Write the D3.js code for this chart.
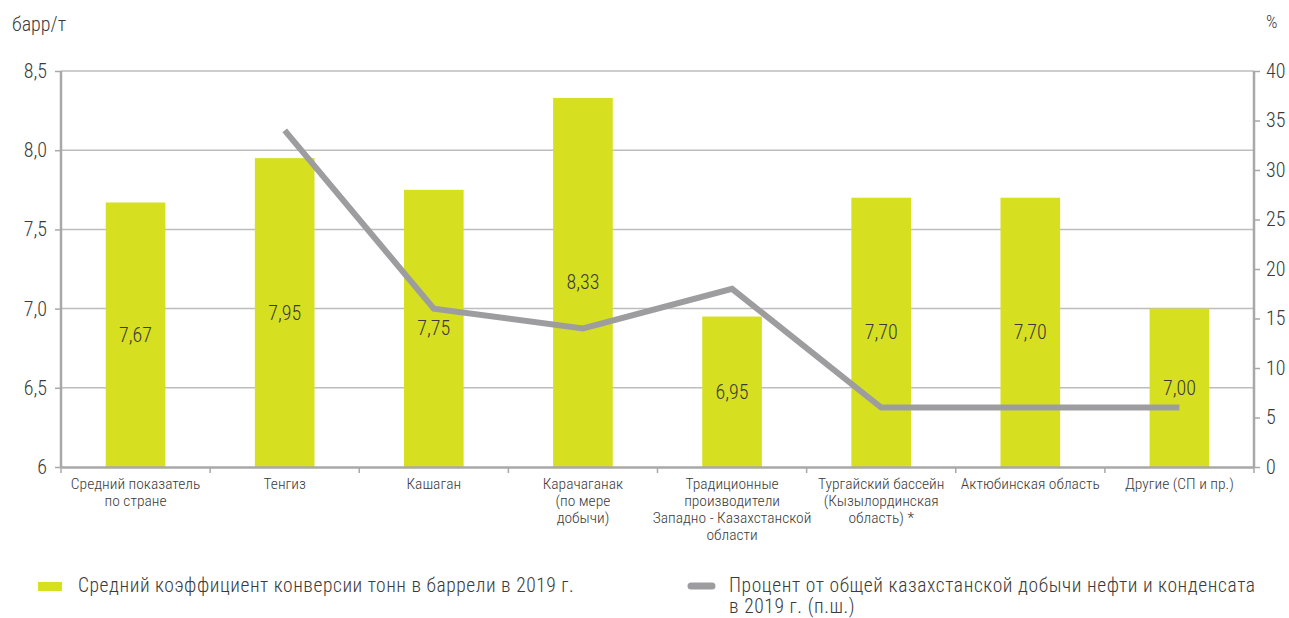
<!DOCTYPE html>
<html>
<head>
<meta charset="utf-8">
<script src="https://cdn.jsdelivr.net/npm/d3@7"></script>
<style>
  body { margin: 0; background: #fff; }
  svg text { font-family: "Roboto Condensed", "Liberation Sans Narrow", Roboto, sans-serif; font-weight: 300; fill: #3a3a3a; }
</style>
</head>
<body>
<div id="chart"></div>
<script>
const categories = [
  ['Средний показатель', 'по стране'],
  ['Тенгиз'],
  ['Кашаган'],
  ['Карачаганак', '(по мере', 'добычи)'],
  ['Традиционные', 'производители', 'Западно - Казахстанской', 'области'],
  ['Тургайский бассейн', '(Кызылординская', 'область) *'],
  ['Актюбинская область'],
  ['Другие (СП и пр.)']
]
const ratio = [7.67, 7.95, 7.75, 8.33, 6.95, 7.70, 7.70, 7.00]
const share = [null, 34, 16, 14, 18, 6, 6, 6]
const leftTicks = [6, 6.5, 7, 7.5, 8, 8.5]
const rightTicks = [0, 5, 10, 15, 20, 25, 30, 35, 40]

const dms = {
  width: 1289,
  height: 618,
  margin: { top: 71, right: 35, bottom: 151, left: 61 }
}
dms.contentWidth = dms.width - dms.margin.left - dms.margin.right
dms.contentHeight = dms.height - dms.margin.top - dms.margin.bottom

const fmt = v => d3.format('.2f')(v).replace('.', ',')
const fmtTick = v => (v === 6 ? '6' : d3.format('.1f')(v).replace('.', ','))

const svg = d3.select('#chart').append('svg')
  .attr('width', dms.width)
  .attr('height', dms.height)

const content = svg.append('g')
  .attr('transform', `translate(${dms.margin.left},${dms.margin.top})`)

const x = d3.scaleBand()
  .domain(d3.range(categories.length))
  .range([0, dms.contentWidth])
  .paddingInner(0.6)
  .paddingOuter(0.3)

const xStep = d3.scaleBand()
  .domain(d3.range(categories.length))
  .range([0, dms.contentWidth])

const yL = d3.scaleLinear().domain([6, 8.5]).range([dms.contentHeight, 0])
const yR = d3.scaleLinear().domain([0, 40]).range([dms.contentHeight, 0])

// gridlines
content.append('g')
  .selectAll('line')
  .data(leftTicks.slice(1))
  .join('line')
  .attr('x1', 0)
  .attr('x2', dms.contentWidth)
  .attr('y1', d => yL(d))
  .attr('y2', d => yL(d))
  .attr('stroke', '#bdbdbd')
  .attr('stroke-width', 1.5)

// bars
content.append('g')
  .selectAll('rect')
  .data(ratio)
  .join('rect')
  .attr('x', (d, i) => x(i))
  .attr('y', d => yL(d))
  .attr('width', x.bandwidth())
  .attr('height', d => dms.contentHeight - yL(d))
  .attr('fill', '#d6e021')

// line
const line = d3.line()
  .defined(d => d != null)
  .x((d, i) => xStep(i) + xStep.bandwidth() / 2)
  .y(d => yR(d))

content.append('path')
  .datum(share)
  .attr('d', line)
  .attr('fill', 'none')
  .attr('stroke', '#9d9da0')
  .attr('stroke-width', 6)
  .attr('stroke-linejoin', 'miter')

// value labels
content.append('g')
  .selectAll('text')
  .data(ratio)
  .join('text')
  .attr('x', (d, i) => x(i) + x.bandwidth() / 2)
  .attr('y', d => (yL(d) + dms.contentHeight) / 2)
  .attr('dy', '0.35em')
  .attr('text-anchor', 'middle')
  .style('font-size', '20px')
  .text(fmt)

// axes
const leftAxis = content.append('g')
  .call(d3.axisLeft(yL).tickValues(leftTicks).tickFormat(fmtTick).tickSize(6).tickPadding(8))
const rightAxis = content.append('g')
  .attr('transform', `translate(${dms.contentWidth},0)`)
  .call(d3.axisRight(yR).tickValues(rightTicks).tickSize(6).tickPadding(6))
const bottomAxis = content.append('g')
  .attr('transform', `translate(0,${dms.contentHeight})`)
  .call(d3.axisBottom(xStep).tickValues([]).tickSizeOuter(0))

bottomAxis.selectAll('.bt')
  .data(d3.range(categories.length + 1))
  .join('line')
  .attr('class', 'bt')
  .attr('x1', d => d * xStep.step())
  .attr('x2', d => d * xStep.step())
  .attr('y1', 0)
  .attr('y2', 6)
  .attr('stroke', '#a8a8a8')
  .attr('stroke-width', 1.5)

for (const ax of [leftAxis, rightAxis, bottomAxis]) {
  ax.attr('font-family', null)
  ax.select('.domain').attr('stroke', '#a8a8a8').attr('stroke-width', 2.5)
  ax.selectAll('.tick line').attr('stroke', '#a8a8a8').attr('stroke-width', 1.5)
  ax.selectAll('.tick text').style('font-size', '20px').style('fill', '#3a3a3a')
}
leftAxis.select('.domain').attr('d', `M0,0V${dms.contentHeight}`)
rightAxis.select('.domain').attr('d', `M0,0V${dms.contentHeight}`)

// category labels
const catLabels = content.append('g')
  .attr('transform', `translate(0,${dms.contentHeight})`)
  .selectAll('text')
  .data(categories)
  .join('text')
  .attr('text-anchor', 'middle')
  .attr('x', (d, i) => xStep(i) + xStep.bandwidth() / 2)
  .attr('y', 22)
  .style('font-size', '15.5px')

catLabels.selectAll('tspan')
  .data(d => d)
  .join('tspan')
  .attr('x', function () { return this.parentNode.getAttribute('x') })
  .attr('dy', (d, i) => (i === 0 ? 0 : 17))
  .text(d => d)

// axis titles
svg.append('text')
  .attr('x', 12)
  .attr('y', 31)
  .style('font-size', '20px')
  .text('барр/т')

svg.append('text')
  .attr('x', 1266)
  .attr('y', 28)
  .style('font-size', '18px')
  .text('%')

// legend
const legend = svg.append('g')
legend.append('rect')
  .attr('x', 38)
  .attr('y', 582)
  .attr('width', 24)
  .attr('height', 9)
  .attr('fill', '#d6e021')
legend.append('text')
  .attr('x', 78)
  .attr('y', 592)
  .style('font-size', '19.5px')
  .style('letter-spacing', '0.55px')
  .text('Средний коэффициент конверсии тонн в баррели в 2019 г.')

legend.append('line')
  .attr('x1', 691)
  .attr('x2', 712)
  .attr('y1', 586)
  .attr('y2', 586)
  .attr('stroke', '#9d9da0')
  .attr('stroke-width', 7)
  .attr('stroke-linecap', 'round')
legend.append('text')
  .attr('x', 729)
  .attr('y', 592)
  .style('font-size', '19.5px')
  .style('letter-spacing', '0.6px')
  .text('Процент от общей казахстанской добычи нефти и конденсата')
legend.append('text')
  .attr('x', 729)
  .attr('y', 613)
  .style('font-size', '19.5px')
  .style('letter-spacing', '0.6px')
  .text('в 2019 г. (п.ш.)')
</script>
</body>
</html>
